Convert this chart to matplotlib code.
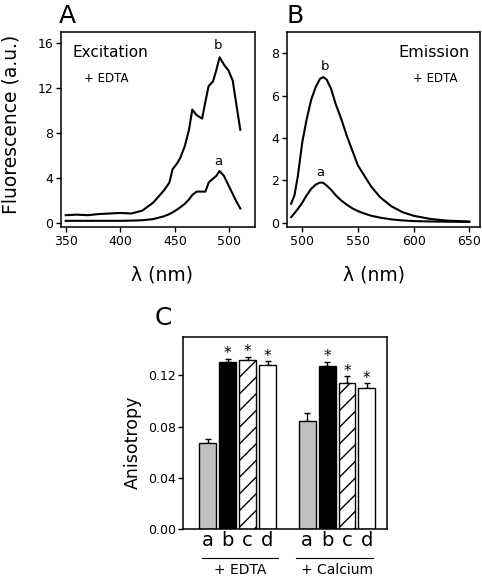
import matplotlib
matplotlib.use("Agg")
import matplotlib.pyplot as plt

plt.rcParams['font.family'] = ['DejaVu Sans']
plt.rcParams['hatch.linewidth'] = 1.0

# --- Panel A: excitation spectra ---
exc_wl = [350, 360, 370, 380, 390, 400, 410, 420, 430, 440, 445, 448, 452, 455,
          459, 463, 466, 470, 475, 478, 481, 485, 488, 491, 495, 499, 503, 506, 510]
exc_b = [0.7, 0.75, 0.7, 0.8, 0.85, 0.9, 0.85, 1.1, 1.8, 2.9, 3.6, 4.8, 5.3, 5.8,
         6.8, 8.3, 10.1, 9.6, 9.3, 10.8, 12.2, 12.6, 13.6, 14.75, 14.1, 13.6, 12.7, 10.8, 8.3]
exc_a = [0.2, 0.2, 0.2, 0.2, 0.2, 0.2, 0.22, 0.25, 0.35, 0.6, 0.8, 0.95, 1.2, 1.4,
         1.7, 2.1, 2.5, 2.8, 2.8, 2.8, 3.6, 3.95, 4.2, 4.63, 4.2, 3.4, 2.6, 2.0, 1.3]

# --- Panel B: emission spectra ---
em_wl = [490, 493, 496, 500, 504, 508, 512, 516, 519, 522, 526, 530, 535, 540, 545,
         550, 556, 562, 570, 580, 590, 600, 615, 630, 650]
em_b = [0.9, 1.3, 2.2, 3.8, 4.9, 5.8, 6.4, 6.8, 6.87, 6.75, 6.3, 5.6, 4.9, 4.1, 3.4,
        2.7, 2.2, 1.7, 1.2, 0.78, 0.5, 0.33, 0.18, 0.1, 0.06]
em_a = [0.27, 0.45, 0.65, 0.95, 1.3, 1.6, 1.8, 1.9, 1.88, 1.75, 1.55, 1.3, 1.05, 0.85, 0.68,
        0.55, 0.43, 0.33, 0.24, 0.16, 0.11, 0.08, 0.06, 0.05, 0.04]

# --- Panel C: anisotropy ---
bar_labels = ['a', 'b', 'c', 'd']
groups = ['+ EDTA', '+ Calcium']
aniso_edta = [0.067, 0.130, 0.132, 0.128]
err_edta = [0.0034, 0.0030, 0.0023, 0.0030]
aniso_ca = [0.084, 0.1275, 0.114, 0.110]
err_ca = [0.0064, 0.0030, 0.0050, 0.0040]
signif_edta = [False, True, True, True]
signif_ca = [False, True, True, True]

bar_face = ['#c0c0c0', 'black', 'white', 'white']
bar_hatch = [None, None, '//', None]

fig = plt.figure(figsize=(4.82, 5.76), dpi=100)

axA = fig.add_axes([0.1266, 0.6059, 0.4025, 0.3385])
axB = fig.add_axes([0.5948, 0.6059, 0.4010, 0.3385])
axC = fig.add_axes([0.3803, 0.0811, 0.4232, 0.3344])

for ax in (axA, axB, axC):
    for s in ax.spines.values():
        s.set_linewidth(1.1)
    ax.tick_params(direction='out', length=3.5, width=1.0, labelsize=9, pad=2)

# A
axA.plot(exc_wl, exc_b, color='black', lw=1.5)
axA.plot(exc_wl, exc_a, color='black', lw=1.5)
axA.set_xlim(345.7, 523.5)
axA.set_ylim(-0.35, 17.0)
axA.set_xticks([350, 400, 450, 500])
axA.set_yticks([0, 4, 8, 12, 16])
axA.set_ylabel('Fluorescence (a.u.)', fontsize=13.5)
axA.yaxis.set_label_coords(-0.211, 0.528)
axA.set_xlabel('λ (nm)', fontsize=13.5, va='top')
axA.xaxis.set_label_coords(0.52, -0.199)
axA.text(0.057, 0.893, 'Excitation', transform=axA.transAxes, fontsize=11, va='center')
axA.text(0.119, 0.76, '+ EDTA', transform=axA.transAxes, fontsize=8.5, va='center')
axA.text(490, 15.2, 'b', fontsize=9.5, ha='center', va='bottom')
axA.text(490, 4.9, 'a', fontsize=9.5, ha='center', va='bottom')
axA.text(-0.01, 1.044, 'A', transform=axA.transAxes, fontsize=18, va='baseline')

# B
axB.plot(em_wl, em_b, color='black', lw=1.5)
axB.plot(em_wl, em_a, color='black', lw=1.5)
axB.set_xlim(486, 659.6)
axB.set_ylim(-0.2, 9.0)
axB.set_xticks([500, 550, 600, 650])
axB.set_yticks([0, 2, 4, 6, 8])
axB.set_xlabel('λ (nm)', fontsize=13.5, va='top')
axB.xaxis.set_label_coords(0.452, -0.199)
axB.text(0.948, 0.893, 'Emission', transform=axB.transAxes, fontsize=11.5, va='center', ha='right')
axB.text(0.8826, 0.76, '+ EDTA', transform=axB.transAxes, fontsize=8.5, va='center', ha='right')
axB.text(520, 7.05, 'b', fontsize=9.5, ha='center', va='bottom')
axB.text(516.5, 2.05, 'a', fontsize=9.5, ha='center', va='bottom')
axB.text(0.0, 1.044, 'B', transform=axB.transAxes, fontsize=18, va='baseline')

# C
pos_edta = [0, 1, 2, 3]
pos_ca = [5, 6, 7, 8]
for pos, vals, errs, sig in ((pos_edta, aniso_edta, err_edta, signif_edta),
                             (pos_ca, aniso_ca, err_ca, signif_ca)):
    for i in range(4):
        axC.bar(pos[i], vals[i], width=0.85, color=bar_face[i], edgecolor='black',
                linewidth=1.0, hatch=bar_hatch[i], zorder=2)
        axC.errorbar(pos[i], vals[i], yerr=[[0], [errs[i]]], color='black',
                     capsize=2.5, elinewidth=1.0, capthick=1.0, zorder=1)
        if sig[i]:
            axC.text(pos[i], vals[i] + errs[i] + 0.0003, '*', ha='center',
                     va='baseline', fontsize=11)

axC.set_xlim(-1.24, 9.03)
axC.set_ylim(0, 0.15)
axC.set_yticks([0.00, 0.04, 0.08, 0.12])
axC.set_yticklabels(['0.00', '0.04', '0.08', '0.12'])
axC.set_xticks(pos_edta + pos_ca)
axC.set_xticklabels(bar_labels + bar_labels, fontsize=14)
axC.tick_params(axis='x', length=0, pad=1)
axC.set_ylabel('Anisotropy', fontsize=12.5)
axC.yaxis.set_label_coords(-0.204, 0.45)
axC.plot([-0.3, 3.55], [-0.0226, -0.0226], color='black', lw=0.8, clip_on=False)
axC.plot([4.45, 8.3], [-0.0226, -0.0226], color='black', lw=0.8, clip_on=False)
axC.text(1.6, -0.0345, groups[0], ha='center', va='baseline', fontsize=10)
axC.text(6.5, -0.0345, groups[1], ha='center', va='baseline', fontsize=10)
axC.text(-0.139, 1.061, 'C', transform=axC.transAxes, fontsize=18, va='baseline')

fig.savefig('out.png', dpi=100)
